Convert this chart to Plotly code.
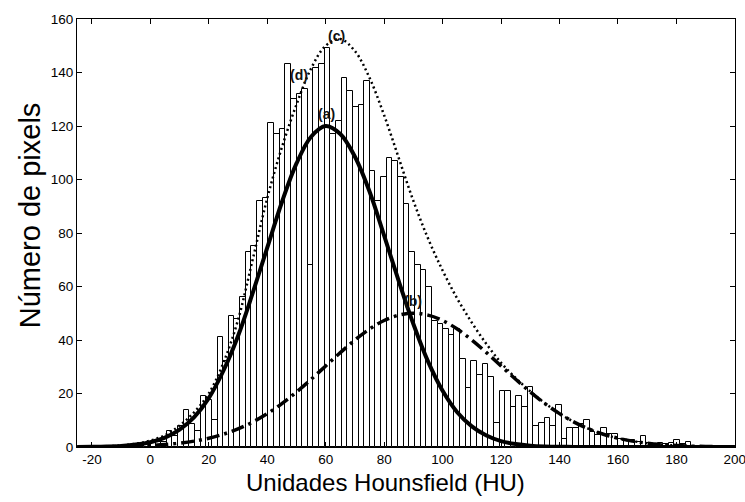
import plotly.graph_objects as go

# ---------------- data ----------------
BIN_START = -9.82      # left edge of first histogram bin (HU)
BIN_WIDTH = 1.93       # histogram bin width (HU)
counts = [0.5, 0.5, 1, 0.5, 1, 1.5, 2, 2, 6, 4,
          8, 14, 8.5, 6, 19, 17.5, 10, 41, 32, 49,
          48, 56, 73, 75, 92, 93, 121, 117, 119, 143,
          130, 132, 134, 68, 141.5, 143, 149, 117, 122, 138,
          133, 127, 128, 137, 103, 92, 101, 108, 107, 101,
          91, 73, 68, 66, 60, 47, 46, 44, 42, 44,
          33, 22, 32, 27, 31, 26, 9, 21, 21, 15,
          19, 15, 22.5, 8, 9, 11, 8, 15.7, 3, 7,
          7, 8.5, 10, 5.7, 4.5, 7, 5, 5, 3, 2.5,
          2.5, 2, 4, 1.5, 1, 1.5, 1, 1.5, 2.5, 1,
          2]
bin_centers = [BIN_START + BIN_WIDTH * (i + 0.5) for i in range(len(counts))]

curve_hu = [-25, -20, -15, -10, -5, 0, 5, 10, 15, 20, 25, 30, 35, 40, 45, 50,
            55, 60, 65, 70, 75, 80, 85, 90, 95, 100, 105, 110, 115, 120, 125,
            130, 135, 140, 145, 150, 155, 160, 165, 170, 175, 180, 185, 190,
            195, 200]
curve_a = [0.03, 0.07, 0.17, 0.4, 0.9, 1.8, 3.5, 6.5, 11.2, 18.3, 28.5, 41.5,
           57.5, 74.5, 91.5, 106, 116, 120, 117, 108.5, 95.5, 79, 62, 46, 32,
           21, 13, 7.7, 4.3, 2.2, 1.1, 0.5, 0.22, 0.09, 0.04, 0.01, 0, 0, 0,
           0, 0, 0, 0, 0, 0, 0]
curve_b = [0.03, 0.06, 0.11, 0.19, 0.33, 0.56, 0.9, 1.43, 2.2, 3.28, 4.78,
           6.77, 9.31, 12.47, 16.23, 20.56, 25.3, 30.3, 35.3, 40.0, 44.1, 47.3,
           49.3, 50, 49.3, 47.3, 44.1, 40.0, 35.3, 30.3, 25.3, 20.56, 16.23,
           12.47, 9.31, 6.77, 4.78, 3.28, 2.2, 1.43, 0.9, 0.56, 0.33, 0.19,
           0.11, 0.06]
curve_c = [0.06, 0.13, 0.28, 0.6, 1.2, 2.4, 4.4, 8, 13, 20, 31.5, 47.5, 70,
           93, 112, 128, 141.5, 150, 152.5, 148, 138, 124, 108, 92, 78, 66,
           55.5, 46.5, 38.5, 31.5, 25.8, 20.8, 16.4, 12.5, 9.35, 6.78, 4.78,
           3.28, 2.2, 1.43, 0.9, 0.56, 0.33, 0.19, 0.11, 0.06]

x_ticks = [-20, 0, 20, 40, 60, 80, 100, 120, 140, 160, 180, 200]
y_ticks = [0, 20, 40, 60, 80, 100, 120, 140, 160]

labels = ["(a)", "(b)", "(c)", "(d)"]
label_x = [60.2, 89.8, 63.8, 50.7]
label_y = [124.5, 54.5, 153.5, 139]

X_TITLE = "Unidades Hounsfield (HU)"
Y_TITLE = "Número de pixels"

FONT = "Liberation Sans, Arial, sans-serif"

fig = go.Figure()
fig.add_trace(go.Bar(
    x=bin_centers, y=counts, width=BIN_WIDTH,
    marker=dict(color="white", line=dict(color="black", width=1)),
    showlegend=False, hoverinfo="skip"))
fig.add_trace(go.Scatter(
    x=curve_hu, y=curve_c, mode="lines", line_shape="spline",
    line=dict(color="black", width=2.5, dash="2px,3px"), showlegend=False))
fig.add_trace(go.Scatter(
    x=curve_hu, y=curve_b, mode="lines", line_shape="spline",
    line=dict(color="black", width=3.5, dash="13px,5px,3px,5px"), showlegend=False))
fig.add_trace(go.Scatter(
    x=curve_hu, y=curve_a, mode="lines", line_shape="spline",
    line=dict(color="black", width=4), showlegend=False))

for t, lx, ly in zip(labels, label_x, label_y):
    fig.add_annotation(x=lx, y=ly, text="<b>" + t + "</b>", showarrow=False,
                       font=dict(family=FONT, size=14, color="#111111"))

# axis titles (placed as annotations to match the original offsets)
fig.add_annotation(xref="paper", yref="paper", x=0.4696, y=-0.084,
                   xanchor="center", yanchor="middle", text=X_TITLE,
                   showarrow=False, font=dict(family=FONT, size=24, color="black"))
fig.add_annotation(xref="paper", yref="paper", x=-0.071, y=0.542,
                   xanchor="center", yanchor="middle", text=Y_TITLE, textangle=-90,
                   showarrow=False, font=dict(family=FONT, size=29, color="black"))

axis_common = dict(showline=True, linecolor="black", linewidth=1, mirror="ticks",
                   ticks="inside", ticklen=5, tickcolor="black", tickwidth=1,
                   showgrid=False, zeroline=False, ticklabeloverflow="allow",
                   tickfont=dict(family=FONT, size=13.5, color="black"))

fig.update_xaxes(range=[-25.1, 200.05], tickvals=x_ticks,
                 ticktext=[str(v) for v in x_ticks], **axis_common)
fig.update_yaxes(range=[0, 160], tickvals=y_ticks,
                 ticktext=[str(v) for v in y_ticks], **axis_common)

fig.update_layout(width=745, height=502,
                  margin=dict(l=77, r=10, t=19, b=55, autoexpand=False),
                  paper_bgcolor="white", plot_bgcolor="white",
                  bargap=0, barmode="overlay")

fig.write_html("out.html")
